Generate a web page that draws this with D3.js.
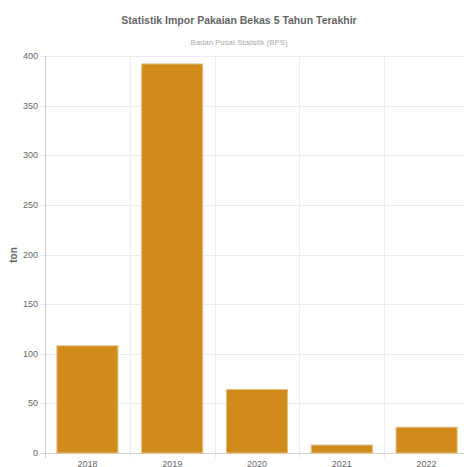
<!DOCTYPE html>
<html>
<head>
    <meta charset="utf-8">
    <script src="https://d3js.org/d3.v7.min.js"></script>
    <style>
        body { margin: 0; background: #fff; overflow: hidden; }
        text { font-family: "Liberation Sans", Arial, sans-serif; }
    </style>
</head>
<body>
    <script>
        // data
        var years = ["2018", "2019", "2020", "2021", "2022"];
        var tons = [108, 392, 64, 8, 26];
        var yTicks = [0, 50, 100, 150, 200, 250, 300, 350, 400];

        var W = 464, H = 467;
        var plotLeft = 45, plotRight = 469, plotTop = 56, plotBottom = 453;
        var centerX = 239;

        var svg = d3.select("body").append("svg")
            .attr("width", W)
            .attr("height", H);

        var x = d3.scaleBand().domain(years).range([plotLeft, plotRight]).paddingInner(0).paddingOuter(0);
        var y = d3.scaleLinear().domain([0, 400]).range([plotBottom, plotTop]);

        // titles
        svg.append("text")
            .attr("x", centerX).attr("y", 24)
            .attr("text-anchor", "middle")
            .style("font-size", "10.5px").style("font-weight", "bold").style("fill", "#666")
            .text("Statistik Impor Pakaian Bekas 5 Tahun Terakhir");
        svg.append("text")
            .attr("x", centerX).attr("y", 45)
            .attr("text-anchor", "middle")
            .style("font-size", "7.8px").style("fill", "#aaa")
            .text("Badan Pusat Statistik (BPS)");

        // horizontal grid
        svg.append("g").selectAll("line")
            .data(yTicks)
            .join("line")
            .attr("x1", plotLeft - 5).attr("x2", plotRight)
            .attr("y1", d => Math.round(y(d)) + 0.5).attr("y2", d => Math.round(y(d)) + 0.5)
            .style("stroke", d => d === 0 ? "#d0d0d0" : "#ebebeb");

        // vertical grid at category edges
        var edges = years.map(d => x(d)).concat([plotRight]);
        svg.append("g").selectAll("line")
            .data(edges)
            .join("line")
            .attr("x1", d => Math.round(d) + 0.5).attr("x2", d => Math.round(d) + 0.5)
            .attr("y1", plotTop).attr("y2", plotBottom + 5)
            .style("stroke", (d, i) => i === 0 ? "#d0d0d0" : "#ebebeb");

        // y tick labels
        svg.append("g").selectAll("text")
            .data(yTicks)
            .join("text")
            .attr("x", plotLeft - 7)
            .attr("y", d => y(d) + 3)
            .attr("text-anchor", "end")
            .style("font-size", "9px").style("fill", "#666")
            .text(d => d);

        // x tick labels
        svg.append("g").selectAll("text")
            .data(years)
            .join("text")
            .attr("x", d => x(d) + x.bandwidth() / 2)
            .attr("y", 467)
            .attr("text-anchor", "middle")
            .style("font-size", "9px").style("fill", "#666")
            .text(d => d);

        // y axis title
        svg.append("text")
            .attr("transform", "translate(17,255) rotate(-90)")
            .attr("text-anchor", "middle")
            .style("font-size", "10px").style("font-weight", "bold").style("fill", "#666")
            .text("ton");

        // bars
        var bw = x.bandwidth() * 0.72;
        svg.append("g").selectAll("rect")
            .data(tons)
            .join("rect")
            .attr("x", (d, i) => x(years[i]) + (x.bandwidth() - bw) / 2)
            .attr("y", d => y(d))
            .attr("width", bw)
            .attr("height", d => plotBottom - y(d))
            .style("fill", "#d08b1b")
            .style("stroke", "#e2bf84")
            .style("stroke-width", 1);
    </script>
</body>
</html>
